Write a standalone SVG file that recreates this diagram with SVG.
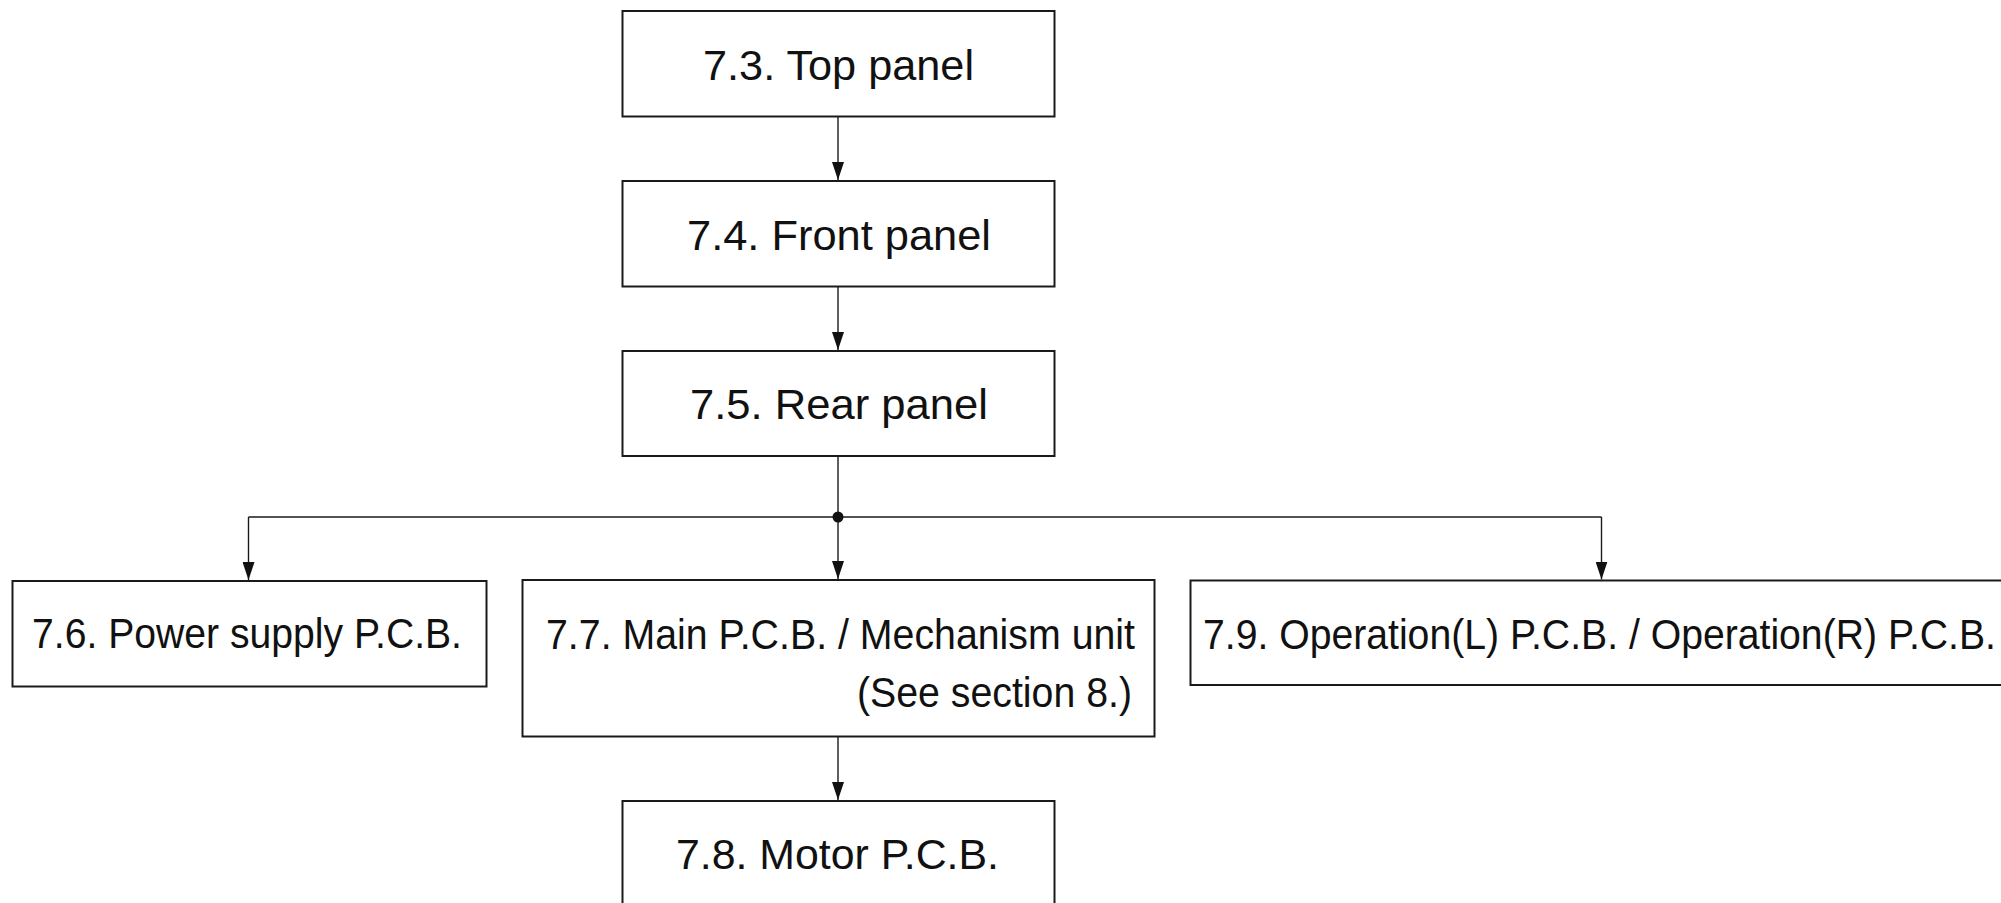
<svg xmlns="http://www.w3.org/2000/svg" width="2001" height="903" viewBox="0 0 2001 903">
<style>
.box{fill:#fff;stroke:#1a1a1a;stroke-width:2}
.t{font-family:"Liberation Sans",Arial,Helvetica,sans-serif;fill:#111;font-size:43px}
.tb{font-family:"Liberation Sans",Arial,Helvetica,sans-serif;fill:#111;font-size:42px}
.c{fill:none;stroke:#1a1a1a;stroke-width:1.4}
</style>
<defs>
<marker id="arr" viewBox="0 0 18 12" refX="18" refY="6" markerWidth="18" markerHeight="12" markerUnits="userSpaceOnUse" orient="auto">
<path d="M0,0 L18,6 L0,12 Z" fill="#111"/>
</marker>
</defs>
<rect width="2001" height="903" fill="#fff"/>
<g id="connectors">
<line class="c" x1="838" y1="116.5" x2="838" y2="180" marker-end="url(#arr)"/>
<line class="c" x1="838" y1="286.5" x2="838" y2="350" marker-end="url(#arr)"/>
<line class="c" x1="838" y1="456" x2="838" y2="579" marker-end="url(#arr)"/>
<line class="c" x1="248.5" y1="517" x2="1601.5" y2="517"/>
<line class="c" x1="248.5" y1="517" x2="248.5" y2="580" marker-end="url(#arr)"/>
<line class="c" x1="1601.5" y1="517" x2="1601.5" y2="579.5" marker-end="url(#arr)"/>
<line class="c" x1="838" y1="736.5" x2="838" y2="800" marker-end="url(#arr)"/>
<circle cx="838" cy="517" r="5.5" fill="#111"/>
</g>
<g id="n73">
<rect class="box" x="622.5" y="11" width="432" height="105.5"/>
<text class="t" x="703" y="80" textLength="271" lengthAdjust="spacingAndGlyphs">7.3. Top panel</text>
</g>
<g id="n74">
<rect class="box" x="622.5" y="181" width="432" height="105.5"/>
<text class="t" x="687" y="249.5" textLength="304" lengthAdjust="spacingAndGlyphs">7.4. Front panel</text>
</g>
<g id="n75">
<rect class="box" x="622.5" y="351" width="432" height="105"/>
<text class="t" x="690" y="419" textLength="298" lengthAdjust="spacingAndGlyphs">7.5. Rear panel</text>
</g>
<g id="n76">
<rect class="box" x="12.5" y="581" width="474" height="105.5"/>
<text class="tb" x="32" y="647.5" textLength="430" lengthAdjust="spacingAndGlyphs">7.6. Power supply P.C.B.</text>
</g>
<g id="n77">
<rect class="box" x="522.5" y="580" width="632" height="156.5"/>
<text class="tb" x="546" y="648.5" textLength="589" lengthAdjust="spacingAndGlyphs">7.7. Main P.C.B. / Mechanism unit</text>
<text class="tb" x="857" y="707" textLength="275" lengthAdjust="spacingAndGlyphs">(See section 8.)</text>
</g>
<g id="n78">
<rect class="box" x="622.5" y="801" width="432" height="120"/>
<text class="t" x="676" y="869" textLength="323" lengthAdjust="spacingAndGlyphs">7.8. Motor P.C.B.</text>
</g>
<g id="n79">
<rect class="box" x="1190.5" y="580.5" width="820" height="104.5"/>
<text class="tb" x="1203" y="649" textLength="793" lengthAdjust="spacingAndGlyphs">7.9. Operation(L) P.C.B. / Operation(R) P.C.B.</text>
</g>
</svg>
